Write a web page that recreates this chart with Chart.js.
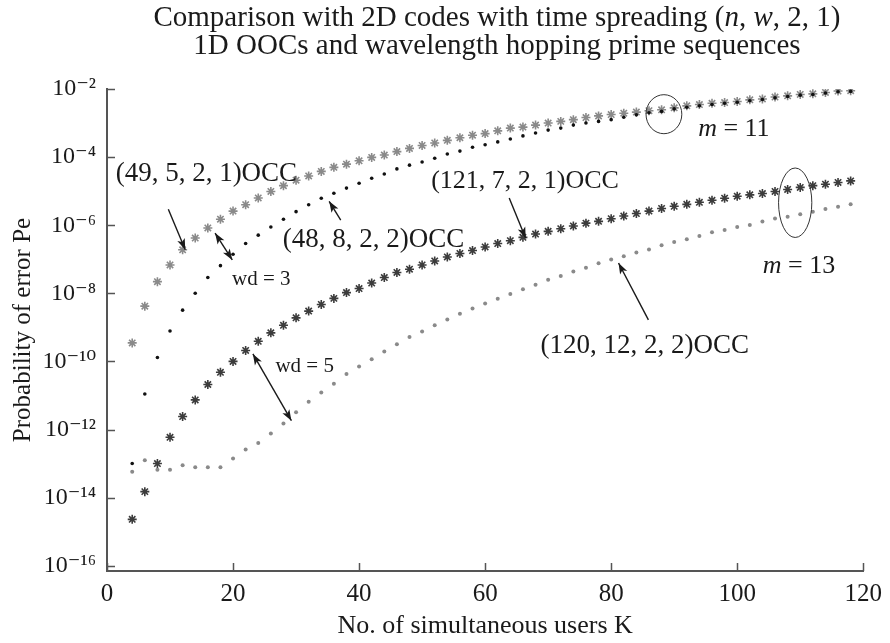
<!DOCTYPE html>
<html>
<head>
<meta charset="utf-8">
<script src="https://cdn.jsdelivr.net/npm/chart.js@4.4.1/dist/chart.umd.min.js"></script>
<style>
  html, body { margin: 0; padding: 0; background: #fff; }
  #wrap { width: 890px; height: 643px; }
</style>
</head>
<body>
<div id="wrap"><canvas id="peChart" width="890" height="643"></canvas></div>
<script>
// number of simultaneous users K
var users = [4, 6, 8, 10, 12, 14, 16, 18, 20, 22, 24, 26, 28, 30, 32, 34, 36, 38, 40, 42,
  44, 46, 48, 50, 52, 54, 56, 58, 60, 62, 64, 66, 68, 70, 72, 74, 76, 78, 80, 82,
  84, 86, 88, 90, 92, 94, 96, 98, 100, 102, 104, 106, 108, 110, 112, 114, 116, 118];

// (49, 5, 2, 1)OCC
var occ49 = [3.5e-10, 4.2e-9, 2.2e-8, 6.8e-8, 1.9e-7, 4.2e-7, 8.3e-7, 1.5e-6, 2.6e-6, 4.0e-6,
  6.3e-6, 9.8e-6, 1.45e-5, 2.1e-5, 2.8e-5, 3.8e-5, 5.0e-5, 6.2e-5, 7.8e-5, 9.8e-5,
  1.15e-4, 1.45e-4, 1.8e-4, 2.2e-4, 2.6e-4, 3.1e-4, 3.7e-4, 4.4e-4, 4.9e-4, 5.9e-4,
  7.1e-4, 7.6e-4, 8.7e-4, 1.0e-3, 1.12e-3, 1.26e-3, 1.45e-3, 1.62e-3, 1.78e-3, 1.95e-3,
  2.1e-3, 2.3e-3, 2.45e-3, 2.8e-3, 3.2e-3, 3.5e-3, 3.8e-3, 4.0e-3, 4.3e-3, 4.8e-3,
  5.1e-3, 5.8e-3, 6.3e-3, 6.9e-3, 7.2e-3, 7.9e-3, 8.7e-3, 8.9e-3];

// (48, 8, 2, 2)OCC
var occ48 = [1.0e-13, 1.1e-11, 1.3e-10, 7.8e-10, 3.2e-9, 1.0e-8, 2.9e-8, 6.5e-8, 1.4e-7, 2.9e-7,
  5.1e-7, 8.9e-7, 1.5e-6, 2.5e-6, 4.0e-6, 6.2e-6, 8.7e-6, 1.23e-5, 1.7e-5, 2.4e-5,
  3.2e-5, 4.5e-5, 5.8e-5, 7.2e-5, 9.3e-5, 1.23e-4, 1.5e-4, 1.95e-4, 2.3e-4, 2.8e-4,
  3.4e-4, 4.2e-4, 5.1e-4, 6.2e-4, 7.1e-4, 8.7e-4, 1.0e-3, 1.12e-3, 1.26e-3, 1.48e-3,
  1.74e-3, 2.0e-3, 2.2e-3, 2.6e-3, 2.9e-3, 3.2e-3, 3.5e-3, 3.8e-3, 4.1e-3, 4.5e-3,
  4.9e-3, 5.5e-3, 6.0e-3, 6.6e-3, 6.9e-3, 7.6e-3, 8.3e-3, 8.5e-3];

// (121, 7, 2, 1)OCC
var occ121 = [2.3e-15, 1.5e-14, 1.0e-13, 5.9e-13, 2.4e-12, 7.4e-12, 2.1e-11, 4.8e-11, 1.0e-10, 2.1e-10,
  3.9e-10, 6.9e-10, 1.15e-9, 1.9e-9, 3.0e-9, 4.7e-9, 7.1e-9, 1.05e-8, 1.38e-8, 2.0e-8,
  2.9e-8, 4.1e-8, 5.1e-8, 6.8e-8, 8.9e-8, 1.17e-7, 1.48e-7, 1.8e-7, 2.3e-7, 2.9e-7,
  3.5e-7, 4.4e-7, 5.5e-7, 6.6e-7, 7.9e-7, 9.5e-7, 1.15e-6, 1.3e-6, 1.55e-6, 1.86e-6,
  2.2e-6, 2.6e-6, 3.1e-6, 3.6e-6, 4.1e-6, 4.7e-6, 5.4e-6, 6.2e-6, 7.1e-6, 7.8e-6,
  8.5e-6, 9.8e-6, 1.12e-5, 1.29e-5, 1.45e-5, 1.6e-5, 1.8e-5, 2.0e-5];

// (120, 12, 2, 2)OCC
var occ120 = [5.8e-14, 1.26e-13, 6.6e-14, 6.6e-14, 8.9e-14, 7.8e-14, 7.8e-14, 7.8e-14, 1.4e-13, 2.6e-13,
  4.0e-13, 7.6e-13, 1.5e-12, 3.2e-12, 6.5e-12, 1.23e-11, 2.2e-11, 4.3e-11, 7.1e-11, 1.15e-10,
  1.95e-10, 3.2e-10, 5.2e-10, 7.6e-10, 1.15e-9, 1.7e-9, 2.5e-9, 3.6e-9, 5.0e-9, 6.9e-9,
  9.5e-9, 1.32e-8, 1.78e-8, 2.5e-8, 3.2e-8, 4.4e-8, 5.6e-8, 7.6e-8, 9.8e-8, 1.23e-7,
  1.58e-7, 1.95e-7, 2.6e-7, 3.2e-7, 3.9e-7, 4.8e-7, 6.2e-7, 7.2e-7, 8.9e-7, 1.02e-6,
  1.29e-6, 1.58e-6, 1.78e-6, 2.1e-6, 2.5e-6, 3.0e-6, 3.5e-6, 4.1e-6];

var xTicks = [0, 20, 40, 60, 80, 100, 120];
var yTicks = [1e-16, 1e-14, 1e-12, 1e-10, 1e-8, 1e-6, 1e-4, 1e-2];

var serif = "'Liberation Serif', 'Times New Roman', 'DejaVu Serif', serif";
var ink = '#1a1a1a';
var axisGray = '#555';

var supMap = { '0': '\u2070', '1': '\u00b9', '2': '\u00b2', '3': '\u00b3', '4': '\u2074',
  '5': '\u2075', '6': '\u2076', '7': '\u2077', '8': '\u2078', '9': '\u2079', '-': '\u207b' };
function powLabel(v) {
  var e = String(Math.round(Math.log10(v)));
  return '10' + e.split('').map(function (c) { return supMap[c]; }).join('');
}

function pts(vals) {
  return users.map(function (k, i) { return { x: k, y: vals[i] }; });
}

// title lines, text annotations, arrows and ellipses (positions in K / log10 Pe)
var titleLines = [
  [{ t: 'Comparison with 2D codes with time spreading (' }, { t: 'n', i: true }, { t: ', ' },
   { t: 'w', i: true }, { t: ', 2, 1)' }],
  [{ t: '1D OOCs and wavelength hopping prime sequences' }]
];
var notes = [
  { segs: [{ t: '(49, 5, 2, 1)OCC' }], k: 1.37, e: -4.49, size: 27 },
  { segs: [{ t: 'wd = 3' }], k: 19.84, e: -7.60, size: 21 },
  { segs: [{ t: '(48, 8, 2, 2)OCC' }], k: 27.88, e: -6.43, size: 27 },
  { segs: [{ t: '(121, 7, 2, 1)OCC' }], k: 51.44, e: -4.72, size: 26 },
  { segs: [{ t: 'wd = 5' }], k: 26.73, e: -10.15, size: 21 },
  { segs: [{ t: '(120, 12, 2, 2)OCC' }], k: 68.8, e: -9.54, size: 27 },
  { segs: [{ t: 'm', i: true }, { t: ' = 11' }], k: 93.8, e: -3.17, size: 26 },
  { segs: [{ t: 'm', i: true }, { t: ' = 13' }], k: 104.06, e: -7.19, size: 26 }
];
var arrows = [
  { from: [9.73, -5.53], to: [12.42, -6.72] },
  { from: [17.15, -6.23], to: [19.88, -7.02], both: true },
  { from: [37.09, -5.85], to: [35.25, -5.30] },
  { from: [63.82, -5.20], to: [66.44, -6.38] },
  { from: [23.15, -9.78], to: [29.26, -11.74], both: true },
  { from: [85.91, -8.78], to: [81.17, -7.11] }
];
var rings = [
  { k: 88.37, e: -2.74, rk: 2.84, re: 0.573 },
  { k: 109.2, e: -5.34, rk: 2.64, re: 1.02 }
];

function drawRich(ctx, segs, x, y, size, align) {
  var w = 0;
  segs.forEach(function (s) {
    ctx.font = (s.i ? 'italic ' : '') + size + 'px ' + serif;
    s.w = ctx.measureText(s.t).width;
    w += s.w;
  });
  var cx = align === 'center' ? x - w / 2 : x;
  segs.forEach(function (s) {
    ctx.font = (s.i ? 'italic ' : '') + size + 'px ' + serif;
    ctx.fillText(s.t, cx, y);
    cx += s.w;
  });
}

function arrowHead(ctx, x0, y0, x1, y1) {
  var a = Math.atan2(y1 - y0, x1 - x0);
  var len = 11, half = 4;
  ctx.beginPath();
  ctx.moveTo(x1, y1);
  ctx.lineTo(x1 - len * Math.cos(a) + half * Math.sin(a), y1 - len * Math.sin(a) - half * Math.cos(a));
  ctx.lineTo(x1 - len * Math.cos(a) * 0.75, y1 - len * Math.sin(a) * 0.75);
  ctx.lineTo(x1 - len * Math.cos(a) - half * Math.sin(a), y1 - len * Math.sin(a) + half * Math.cos(a));
  ctx.closePath();
  ctx.fill();
}

var decorPlugin = {
  id: 'decor',
  afterDraw: function (chart) {
    var ctx = chart.ctx, xs = chart.scales.x, ys = chart.scales.y, area = chart.chartArea;
    var px = function (k) { return xs.getPixelForValue(k); };
    var py = function (e) { return ys.getPixelForValue(Math.pow(10, e)); };
    ctx.save();

    // inward tick marks
    ctx.strokeStyle = axisGray;
    ctx.lineWidth = 1.5;
    ctx.beginPath();
    xs.ticks.forEach(function (t) {
      var x = Math.round(xs.getPixelForValue(t.value)) + 0.5;
      ctx.moveTo(x, area.bottom);
      ctx.lineTo(x, area.bottom - 8);
    });
    ys.ticks.forEach(function (t) {
      var y = Math.round(ys.getPixelForValue(t.value)) + 0.5;
      ctx.moveTo(area.left, y);
      ctx.lineTo(area.left + 8, y);
    });
    ctx.stroke();

    // title
    ctx.fillStyle = ink;
    ctx.textBaseline = 'alphabetic';
    ctx.textAlign = 'left';
    drawRich(ctx, titleLines[0], 497, 26, 29, 'center');
    drawRich(ctx, titleLines[1], 497, 54, 29, 'center');

    // labels
    ctx.textBaseline = 'middle';
    notes.forEach(function (n) {
      drawRich(ctx, n.segs, px(n.k), py(n.e), n.size, 'left');
    });

    // arrows
    ctx.strokeStyle = ink;
    ctx.lineWidth = 1.4;
    arrows.forEach(function (a) {
      var x0 = px(a.from[0]), y0 = py(a.from[1]), x1 = px(a.to[0]), y1 = py(a.to[1]);
      ctx.beginPath();
      ctx.moveTo(x0, y0);
      ctx.lineTo(x1, y1);
      ctx.stroke();
      arrowHead(ctx, x0, y0, x1, y1);
      if (a.both) arrowHead(ctx, x1, y1, x0, y0);
    });

    // ellipses
    ctx.strokeStyle = '#333';
    ctx.lineWidth = 1;
    rings.forEach(function (r) {
      var cx = px(r.k), cy = py(r.e);
      var rx = px(r.k + r.rk) - cx, ry = cy - py(r.e + r.re);
      ctx.beginPath();
      ctx.ellipse(cx, cy, rx, ry, 0, 0, Math.PI * 2);
      ctx.stroke();
    });
    ctx.restore();
  }
};

new Chart(document.getElementById('peChart'), {
  type: 'line',
  data: {
    datasets: [
      { label: '(48, 8, 2, 2)OCC', data: pts(occ48), showLine: false, order: 0,
        pointStyle: 'circle', pointRadius: 1.8, pointBackgroundColor: '#111', pointBorderColor: '#111', pointBorderWidth: 0 },
      { label: '(49, 5, 2, 1)OCC', data: pts(occ49), showLine: false, order: 2,
        pointStyle: 'star', pointRadius: 4.5, pointBorderColor: '#8a8a8a', pointBorderWidth: 1.6 },
      { label: '(121, 7, 2, 1)OCC', data: pts(occ121), showLine: false, order: 1,
        pointStyle: 'star', pointRadius: 4.5, pointBorderColor: '#3c3c3c', pointBorderWidth: 1.6 },
      { label: '(120, 12, 2, 2)OCC', data: pts(occ120), showLine: false, order: 3,
        pointStyle: 'circle', pointRadius: 2, pointBackgroundColor: '#8a8a8a', pointBorderColor: '#8a8a8a', pointBorderWidth: 0 }
    ]
  },
  options: {
    responsive: false,
    animation: false,
    events: [],
    layout: { padding: { top: 89, right: 22, left: 0, bottom: 0 } },
    plugins: { legend: { display: false }, tooltip: { enabled: false }, title: { display: false } },
    scales: {
      x: {
        type: 'linear', min: 0, max: 120,
        afterBuildTicks: function (s) { s.ticks = xTicks.map(function (v) { return { value: v }; }); },
        afterFit: function (s) { s.height = 72; },
        grid: { display: false, drawTicks: false },
        border: { display: true, color: axisGray, width: 2 },
        ticks: { color: ink, font: { family: serif, size: 25 }, padding: 8, maxRotation: 0 },
        title: { display: true, text: 'No. of simultaneous users K', color: ink,
          font: { family: serif, size: 26 }, padding: { top: 0, bottom: 1 } }
      },
      y: {
        type: 'logarithmic', min: 7e-17, max: 1e-2,
        afterBuildTicks: function (s) { s.ticks = yTicks.map(function (v) { return { value: v }; }); },
        afterFit: function (s) { s.width = 107; },
        grid: { display: false, drawTicks: false },
        border: { display: true, color: axisGray, width: 2 },
        ticks: { color: ink, font: { family: serif, size: 24 }, padding: 11,
          callback: function (v) { return powLabel(v); } },
        title: { display: true, text: 'Probability of error Pe', color: ink,
          font: { family: serif, size: 25 }, padding: { top: 8, bottom: 0 } }
      }
    }
  },
  plugins: [decorPlugin]
});
</script>
</body>
</html>
